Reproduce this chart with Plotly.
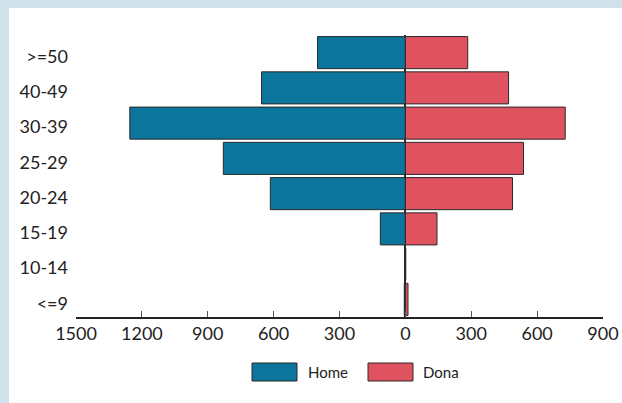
import plotly.graph_objects as go

categories = ["<=9", "10-14", "15-19", "20-24", "25-29", "30-39", "40-49", ">=50"]
home = [5, 2, 114, 615, 829, 1255, 655, 400]
dona = [12, 2, 144, 488, 538, 728, 470, 284]
tick_vals = [-1500, -1200, -900, -600, -300, 0, 300, 600, 900]
tick_text = ["1500", "1200", "900", "600", "300", "0", "300", "600", "900"]

BLUE = "#0b759b"
RED = "#e0525f"
OUTLINE = "#2a2a2a"
STRIP = "#cfe2ea"
FONT = "Lato"

W, H = 622, 403
L, R, T, B = 76, 19, 35, 86
PW, PH = W - L - R, H - T - B

def px(x):
    return (x - L) / PW

def py(y):
    return (H - B - y) / PH

fig = go.Figure()
fig.add_trace(go.Bar(
    y=categories, x=[-v for v in home], orientation="h", name="Home",
    marker=dict(color=BLUE, line=dict(color=OUTLINE, width=1)),
    showlegend=False,
))
fig.add_trace(go.Bar(
    y=categories, x=dona, orientation="h", name="Dona",
    marker=dict(color=RED, line=dict(color=OUTLINE, width=1)),
    showlegend=False,
))

shapes = [
    # light-blue frame strips (left and top)
    dict(type="rect", xref="paper", yref="paper", layer="below",
         x0=px(0), x1=px(9), y0=py(H), y1=py(0),
         fillcolor=STRIP, line=dict(width=0)),
    dict(type="rect", xref="paper", yref="paper", layer="below",
         x0=px(0), x1=px(W), y0=py(8), y1=py(0),
         fillcolor=STRIP, line=dict(width=0)),
    # legend boxes
    dict(type="rect", xref="paper", yref="paper",
         x0=px(252), x1=px(297), y0=py(381), y1=py(363),
         fillcolor=BLUE, line=dict(color=OUTLINE, width=1)),
    dict(type="rect", xref="paper", yref="paper",
         x0=px(368), x1=px(413), y0=py(381), y1=py(363),
         fillcolor=RED, line=dict(color=OUTLINE, width=1)),
]
annotations = [
    dict(text="Home", xref="paper", yref="paper", x=px(306), y=py(372),
         xanchor="left", yanchor="middle", showarrow=False,
         font=dict(family=FONT, size=15, color="#222")),
    dict(text="Dona", xref="paper", yref="paper", x=px(421), y=py(372),
         xanchor="left", yanchor="middle", showarrow=False,
         font=dict(family=FONT, size=15, color="#222")),
]

fig.update_layout(
    width=W, height=H,
    margin=dict(l=L, r=R, t=T, b=B, autoexpand=False),
    paper_bgcolor="white",
    plot_bgcolor="white",
    barmode="relative",
    bargap=0.09,
    shapes=shapes,
    annotations=annotations,
    font=dict(family=FONT, size=18, color="#222"),
    xaxis=dict(
        range=[-1500, 900], tickvals=tick_vals, ticktext=tick_text,
        showgrid=False, zeroline=True, zerolinecolor=OUTLINE, zerolinewidth=1.5,
        showline=True, linecolor="#222", linewidth=1.5,
        ticks="inside", ticklen=6, tickcolor="#555", tickwidth=1,
        tickfont=dict(family=FONT, size=18, color="#222"),
        fixedrange=True, automargin=False,
    ),
    yaxis=dict(
        categoryorder="array", categoryarray=categories,
        range=[-0.5, 7.5], showgrid=False, zeroline=False, showline=False,
        ticks="", ticklabelstandoff=7, ticklabelshift=4,
        tickfont=dict(family=FONT, size=18, color="#222"),
        fixedrange=True, automargin=False,
    ),
)

fig.write_html(
    "out.html",
    config={"displayModeBar": False},
    post_script="document.body.style.margin='0';document.body.style.overflow='hidden';document.body.style.background='white';",
)
